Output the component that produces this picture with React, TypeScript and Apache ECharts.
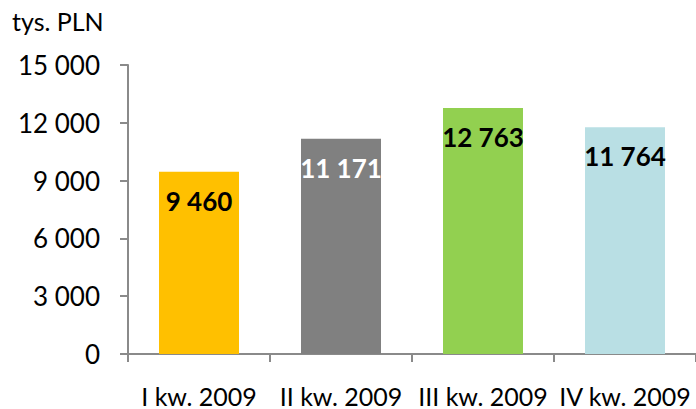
import React, { useEffect, useRef } from "react";
import * as echarts from "echarts";

const categories = ["I kw. 2009", "II kw. 2009", "III kw. 2009", "IV kw. 2009"];
const values = [9460, 11171, 12763, 11764];
const barColors = ["#FFC000", "#808080", "#92D050", "#B9DFE4"];
const labelColors = ["#000000", "#FFFFFF", "#000000", "#000000"];
const yTicks = { min: 0, max: 15000, interval: 3000 };
const unitLabel = "tys. PLN";

const fmt = (v: number) => String(v).replace(/\B(?=(\d{3})+(?!\d))/g, " ");

export default function App() {
  const ref = useRef<HTMLDivElement>(null);
  useEffect(() => {
    document.body.style.margin = "0";
    const chart = echarts.init(ref.current!, null, { renderer: "svg" });
    const font = "Lato, 'Open Sans', sans-serif";
    chart.setOption({
      animation: false,
      grid: { left: 128, right: 0, top: 65, bottom: 55, containLabel: false },
      graphic: [
        {
          type: "text",
          left: 12,
          top: 8,
          style: { text: unitLabel, fontSize: 25, fontFamily: font, fill: "#000" },
        },
      ],
      xAxis: {
        type: "category",
        data: categories,
        axisLine: { show: true, lineStyle: { color: "#8a8a8a", width: 2 } },
        axisTick: { show: true, length: 8, lineStyle: { color: "#8a8a8a", width: 2 } },
        axisLabel: { interval: 0, margin: 29, fontSize: 25, fontFamily: font, color: "#000" },
      },
      yAxis: {
        type: "value",
        min: yTicks.min,
        max: yTicks.max,
        interval: yTicks.interval,
        splitLine: { show: false },
        axisLine: { show: true, lineStyle: { color: "#8a8a8a", width: 2 } },
        axisTick: { show: true, length: 8, lineStyle: { color: "#8a8a8a", width: 2 } },
        axisLabel: {
          margin: 28,
          fontSize: 26,
          fontFamily: font,
          color: "#000",
          formatter: (v: number) => fmt(v),
        },
      },
      series: [
        {
          type: "bar",
          barWidth: 80,
          data: values.map((v, i) => ({
            value: v,
            itemStyle: { color: barColors[i] },
            label: { color: labelColors[i] },
          })),
          label: {
            show: true,
            position: "insideTop",
            distance: 16,
            fontSize: 26,
            fontWeight: "bold",
            fontFamily: font,
            formatter: (p: any) => fmt(p.value),
          },
        },
      ],
    });
    return () => chart.dispose();
  }, []);
  return <div ref={ref} style={{ width: 696, height: 409 }} />;
}
